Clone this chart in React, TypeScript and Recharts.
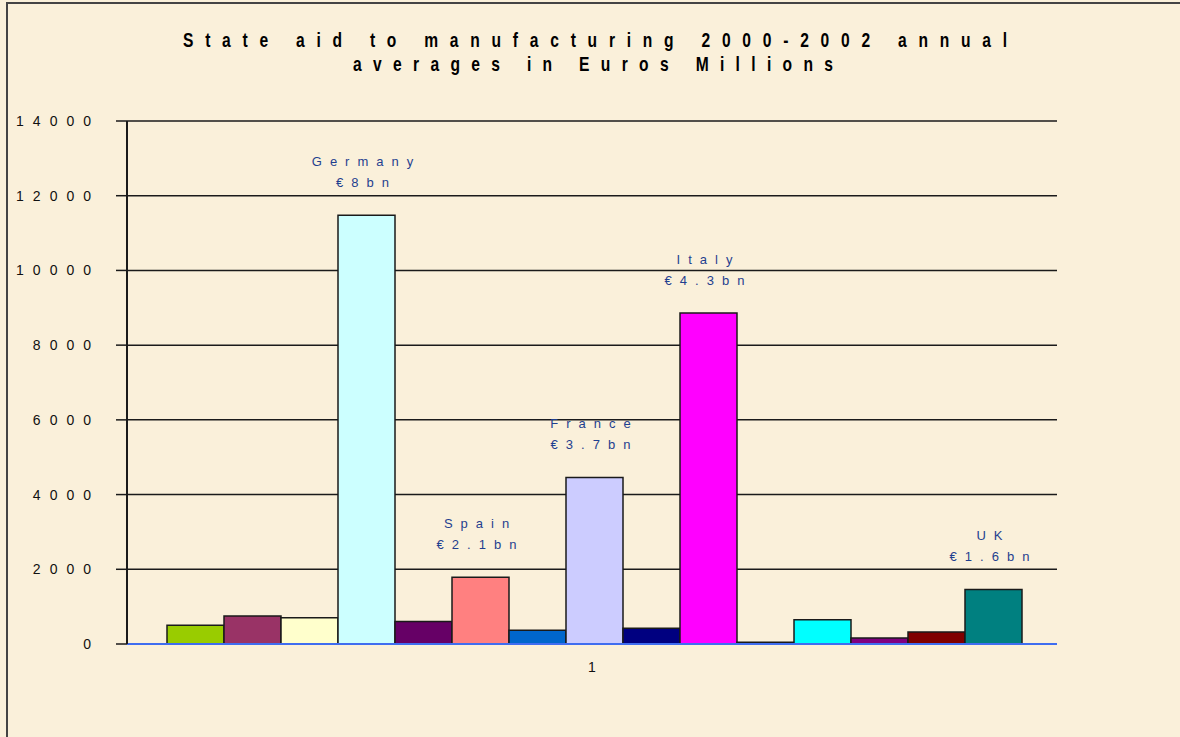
import { BarChart, Bar, XAxis, YAxis, CartesianGrid } from 'recharts';

// one category, fifteen countries (only five are named in the original)
const categories = ['1'];
const seriesKeys = ['s1', 's2', 's3', 's4', 's5', 's6', 's7', 's8', 's9', 's10', 's11', 's12', 's13', 's14', 's15'];
const seriesValues = [500, 750, 700, 11480, 600, 1790, 370, 4460, 420, 8860, 45, 650, 160, 320, 1460];
const seriesColors = [
  '#99CC00', '#993366', '#FFFFCC', '#CCFFFF', '#660066',
  '#FF8080', '#0066CC', '#CCCCFF', '#000080', '#FF00FF',
  '#FFFF00', '#00FFFF', '#800080', '#800000', '#008080',
];
const annotationNames = ['', '', '', 'Germany', '', 'Spain', '', 'France', '', 'Italy', '', '', '', '', 'UK'];
const annotationAmounts = ['', '', '', '€8bn', '', '€2.1bn', '', '€3.7bn', '', '€4.3bn', '', '', '', '', '€1.6bn'];
const yTicks = [0, 2000, 4000, 6000, 8000, 10000, 12000, 14000];

const data = categories.map((name) => {
  const row: Record<string, string | number> = { name };
  seriesKeys.forEach((key, i) => {
    row[key] = seriesValues[i];
  });
  return row;
});

const FONT = 'Arial, "Liberation Sans", sans-serif';
const SQUEEZE = 0.78; // title glyphs are condensed in the original

function YTick({ x, y, payload }: any) {
  return (
    <text x={x} y={y} dy="0.36em" textAnchor="end" fontSize={14} fontFamily={FONT} fill="#111" letterSpacing={9}>
      {payload.value}
    </text>
  );
}

function annotation(i: number) {
  return (props: any) => {
    const { x, y, width } = props;
    const cx = Number(x) + Number(width) / 2;
    return (
      <text textAnchor="middle" fontSize={13} fontFamily={FONT} fill="#1F3F8F" letterSpacing={8}>
        <tspan x={cx} y={Number(y) - 49}>{annotationNames[i]}</tspan>
        <tspan x={cx} y={Number(y) - 28}>{annotationAmounts[i]}</tspan>
      </text>
    );
  };
}

function TitleLine({ x, y, w, children }: any) {
  return (
    <g transform={`translate(${x},${y}) scale(${SQUEEZE},1)`}>
      <text x={0} y={0} textLength={w / SQUEEZE} lengthAdjust="spacing" fontSize={20} fontWeight="bold"
        fontFamily={FONT} fill="#000">
        {children}
      </text>
    </g>
  );
}

export default function App() {
  return (
    <div style={{ position: 'absolute', left: 0, top: 0, width: 1180, height: 737, overflow: 'hidden', background: '#FAF0DA' }}>
      <div
        style={{
          position: 'absolute',
          left: 6,
          top: 2,
          width: 1200,
          height: 800,
          border: '2px solid #444',
        }}
      />
      <svg width={1180} height={90} style={{ position: 'absolute', left: 0, top: 0 }}>
        <TitleLine x={183} y={47} w={824}>State aid to manufacturing 2000-2002 annual</TitleLine>
        <TitleLine x={353} y={71} w={480}>averages in Euros Millions</TitleLine>
      </svg>
      <div style={{ position: 'absolute', left: 0, top: 0 }}>
        <BarChart
          width={1180}
          height={737}
          data={data}
          margin={{ top: 121, right: 123, left: 67, bottom: 63 }}
          barGap={0}
          barCategoryGap={40}
        >
          <CartesianGrid vertical={false} stroke="#1a1a1a" strokeWidth={1.5} />
          <XAxis
            dataKey="name"
            axisLine={{ stroke: '#3F6DF0', strokeWidth: 2 }}
            tickLine={false}
            tickMargin={12}
            tick={{ fontSize: 14, fill: '#111', fontFamily: FONT }}
          />
          <YAxis
            width={60}
            domain={[0, 14000]}
            ticks={yTicks}
            interval={0}
            axisLine={{ stroke: '#1a1a1a', strokeWidth: 2 }}
            tickLine={{ stroke: '#1a1a1a', strokeWidth: 1.5 }}
            tickSize={11}
            tickMargin={16}
            tick={<YTick />}
          />
          {seriesKeys.map((key, i) => (
            <Bar
              key={key}
              dataKey={key}
              fill={seriesColors[i]}
              stroke="#1a1a1a"
              strokeWidth={1.5}
              isAnimationActive={false}
              label={annotationNames[i] ? annotation(i) : undefined}
            />
          ))}
        </BarChart>
      </div>
    </div>
  );
}
